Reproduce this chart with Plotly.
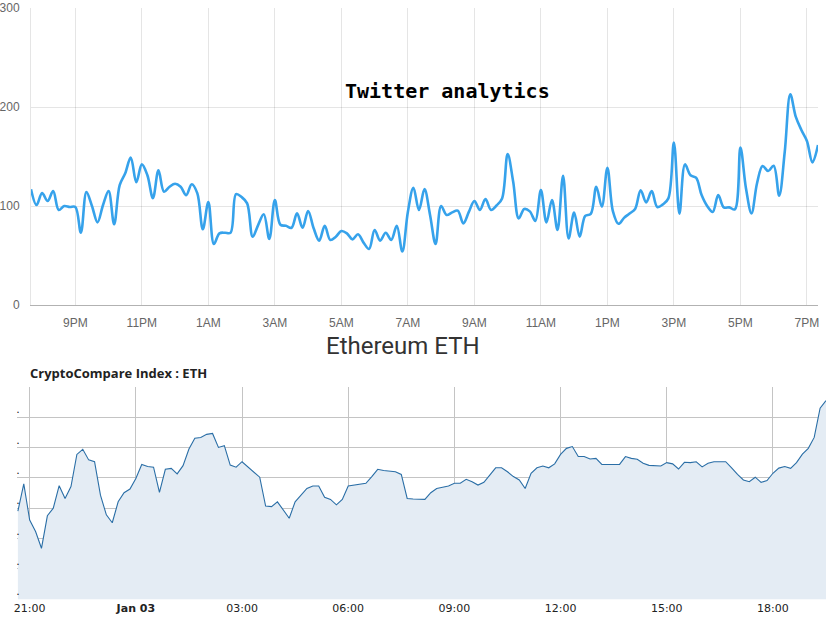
import pandas as pd
import plotly.graph_objects as go

# ---------------- Twitter analytics (10-minute samples) ----------------
tw_start = "2018-01-02 19:40"
tw_values = [
    117, 101,
    113, 105, 115, 96, 100, 99,
    99, 73, 114, 100, 83.5, 101,
    115, 81.5, 121, 133, 149, 124,
    142, 131, 108, 136, 114.5, 119.5,
    122.5, 119.5, 111, 122, 113, 76.5,
    104, 61.6, 72.4, 73, 73, 112,
    109, 102.7, 69, 81, 91.6, 66.7,
    106, 81, 80, 78, 92.6, 78,
    95, 77.5, 65, 80, 65.7, 69,
    74.7, 72.4, 66.3, 71.4, 63, 56.6,
    75.8, 65, 73, 65.7, 80, 54,
    94, 118.5, 96, 117, 91, 61.6,
    100, 91, 93.6, 95.3, 82.5, 94,
    105, 96, 107, 96, 100.5, 107.7,
    152.5, 124.5, 87.5, 97, 94.6, 85,
    116, 83.5, 106, 75.8, 130.6, 67.3,
    93.3, 69, 90, 92, 119.5, 99.3,
    138.7, 94.6, 82, 88, 92.4, 97,
    115.8, 103.7, 115, 99, 101.6, 107.7,
    164, 92.3, 142, 131, 128.6, 111,
    100, 94, 111, 98.6, 98.6, 96.6,
    159, 118, 92.6, 123, 140.4, 135.4,
    140.7, 110.4, 154.8, 212.8, 190, 176.8,
    165.7, 144, 161.6,
]
tw_times = pd.date_range(tw_start, periods=len(tw_values), freq="10min")
tw_yticks = [0, 100, 200, 300]

# ---------------- Ethereum ETH (10-minute samples) ----------------
eth_start = "2018-01-02 20:40"
eth_values = [
    909.0, 918.0,
    906.1, 902.3, 896.8, 907.5, 910.0, 917.4,
    913.2, 917.1, 927.7, 929.4, 925.9, 925.3,
    914.3, 907.8, 905.2, 912.1, 915.1, 916.3,
    919.8, 924.4, 923.7, 923.5, 915.2, 922.8,
    923.1, 921.3, 924.0, 929.5, 933.0, 933.3,
    934.3, 934.6, 930.0, 930.6, 924.2, 923.5,
    925.3, 923.5, 921.8, 920.2, 910.7, 910.5,
    912.1, 909.4, 906.7, 912.1, 914.3, 916.5,
    917.3, 917.3, 913.6, 912.9, 911.1, 912.9,
    917.3, 917.6, 918.0, 918.2, 920.4, 922.8,
    922.4, 922.2, 922.0, 921.1, 913.2, 913.0,
    912.9, 912.9, 915.1, 916.5, 916.9, 917.3,
    918.2, 918.2, 919.5, 918.7, 917.6, 918.5,
    920.9, 923.3, 923.3, 922.0, 920.4, 919.3,
    916.5, 921.5, 923.3, 923.9, 923.3, 924.6,
    927.7, 929.7, 930.3, 927.0, 927.0, 926.2,
    926.4, 924.4, 924.4, 924.4, 924.4, 927.0,
    926.4, 926.1, 924.8, 924.1, 924.0, 923.9,
    925.0, 924.6, 922.9, 925.1, 925.0, 925.3,
    923.6, 924.8, 925.3, 925.3, 925.3, 923.3,
    921.1, 919.3, 918.7, 920.2, 918.5, 919.1,
    921.5, 923.2, 923.7, 923.1, 925.0, 927.8,
    929.7, 933.3, 942.9, 945.4,
]
eth_times = pd.date_range(eth_start, periods=len(eth_values), freq="10min")
eth_xtick_vals = ["2018-01-02 21:00", "2018-01-03 00:00", "2018-01-03 03:00",
                  "2018-01-03 06:00", "2018-01-03 09:00", "2018-01-03 12:00",
                  "2018-01-03 15:00", "2018-01-03 18:00"]
eth_xtick_text = ["21:00", "<b>Jan 03</b>", "03:00", "06:00", "09:00",
                  "12:00", "15:00", "18:00"]
eth_ytick_vals = [880, 890, 900, 910, 920, 930, 940, 950]
eth_ytick_text = [".", ".", ".", ".", ".", ".", ".", ""]

W, H = 828, 617

fig = go.Figure()

fig.add_trace(go.Scatter(
    x=tw_times, y=tw_values, mode="lines",
    line=dict(color="#36a2eb", width=2.6, shape="spline", smoothing=1.0),
    xaxis="x", yaxis="y", showlegend=False, hoverinfo="x+y",
))

fig.add_trace(go.Scatter(
    x=eth_times, y=eth_values, mode="lines", fill="tozeroy",
    fillcolor="#e4ecf4",
    line=dict(color="#2a6ea6", width=1.1),
    xaxis="x2", yaxis="y2", showlegend=False, hoverinfo="x+y",
))

grid_top = "rgba(0,0,0,0.1)"
grid_bot = "#c4c4c4"

fig.update_layout(
    width=W, height=H, autosize=False,
    margin=dict(l=0, r=0, t=0, b=0, pad=0),
    paper_bgcolor="white", plot_bgcolor="white",
    xaxis=dict(
        domain=[31 / W, 818 / W], anchor="y", automargin=False,
        range=["2018-01-02 19:40", "2018-01-03 19:20"],
        tick0="2018-01-02 21:00", dtick=2 * 3600 * 1000,
        tickformat="%-I%p",
        showgrid=True, gridcolor=grid_top, gridwidth=1,
        showline=True, linecolor="rgba(0,0,0,0.3)", linewidth=1,
        ticks="", ticklabelstandoff=7,
        tickfont=dict(family="Liberation Sans, Arial", size=12, color="#666"),
        zeroline=False,
    ),
    yaxis=dict(
        domain=[1 - 305 / H, 1 - 8 / H], anchor="x", automargin=False,
        range=[0, 300], tickvals=tw_yticks,
        showgrid=True, gridcolor=grid_top, gridwidth=1,
        showline=True, linecolor=grid_top, linewidth=1,
        zeroline=False, ticks="", ticklabelstandoff=8,
        tickfont=dict(family="Liberation Sans, Arial", size=12, color="#666"),
    ),
    xaxis2=dict(
        domain=[16.7 / W, 826 / W], anchor="y2", automargin=False,
        range=["2018-01-02 20:38", "2018-01-03 19:30"],
        tickvals=eth_xtick_vals, ticktext=eth_xtick_text,
        showgrid=True, gridcolor=grid_bot, gridwidth=1,
        showline=False, ticks="", ticklabelstandoff=1,
        tickfont=dict(family="DejaVu Sans, Verdana", size=11, color="#222"),
        zeroline=False,
    ),
    yaxis2=dict(
        domain=[1 - 599.3 / H, 1 - 386.7 / H], anchor="x2", automargin=False,
        range=[880, 950], tickvals=eth_ytick_vals, ticktext=eth_ytick_text,
        ticklabelposition="outside top", ticklabelstandoff=-4,
        showgrid=True, gridcolor=grid_bot, gridwidth=1,
        showline=False, zeroline=False, ticks="",
        tickfont=dict(family="DejaVu Sans", size=11, color="#222"),
    ),
    annotations=[
        dict(text="<b>Twitter analytics</b>", xref="paper", yref="paper",
             x=448 / W, y=1 - 91 / H, xanchor="center", yanchor="middle",
             showarrow=False,
             font=dict(family="DejaVu Sans Mono, Liberation Mono", size=20,
                       color="#000")),
        dict(text="Ethereum ETH", xref="paper", yref="paper",
             x=402.5 / W, y=1 - 346 / H, xanchor="center", yanchor="middle",
             showarrow=False,
             font=dict(family="Roboto, Open Sans", size=24, color="#333")),
        dict(text="<b>CryptoCompare Index : ETH</b>", xref="paper",
             yref="paper", x=28 / W, y=1 - 373 / H, xanchor="left",
             yanchor="middle", showarrow=False,
             font=dict(family="Open Sans, DejaVu Sans", size=13,
                       color="#222")),
    ],
)

fig.write_html(
    "out.html",
    config={"displayModeBar": False},
    post_script="document.body.style.margin='0';document.body.style.overflow='hidden';",
)
